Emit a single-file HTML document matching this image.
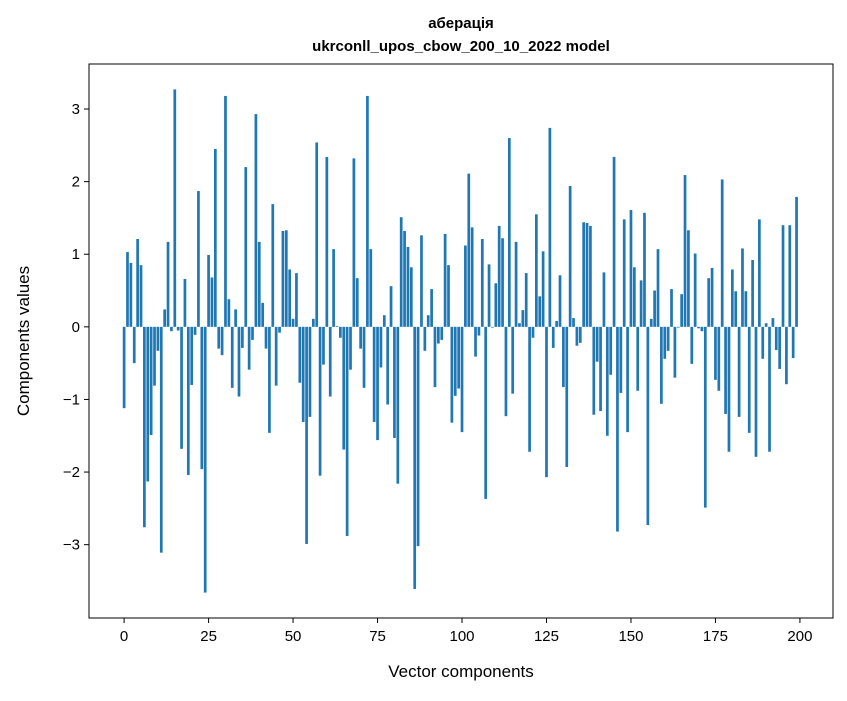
<!DOCTYPE html>
<html><head><meta charset="utf-8"><style>
body{margin:0;background:#fff;font-family:"Liberation Sans","DejaVu Sans",sans-serif}
</style></head><body>
<svg id="chart" width="847" height="696" xmlns="http://www.w3.org/2000/svg" font-family="Liberation Sans, DejaVu Sans, sans-serif">
<rect width="847" height="696" fill="#fff"/>
<text x="461" y="28" text-anchor="middle" font-size="15" font-weight="bold">аберація</text>
<text x="461" y="51" text-anchor="middle" font-size="15" font-weight="bold">ukrconll_upos_cbow_200_10_2022 model</text>
<g id="bars"></g>
<rect x="89" y="64" width="744" height="554" fill="none" stroke="#000" stroke-width="1"/>
<g id="xticks"></g>
<g id="yticks"></g>
<text x="461" y="677" text-anchor="middle" font-size="17">Vector components</text>
<text transform="translate(29,341) rotate(-90)" text-anchor="middle" font-size="17">Components values</text>
</svg>
<script>
const values = [-1.12,1.03,0.88,-0.50,1.21,0.85,-2.76,-2.13,-1.49,-0.81,-0.33,-3.11,0.24,1.17,-0.06,3.27,-0.05,-1.68,0.66,-2.04,
-0.80,-0.11,1.87,-1.96,-3.66,0.99,0.68,2.45,-0.30,-0.39,3.18,0.38,-0.84,0.24,-0.96,-0.29,2.20,-0.59,-0.18,2.93,
1.17,0.33,-0.30,-1.46,1.69,-0.81,-0.08,1.32,1.33,0.79,0.11,0.74,-0.77,-1.31,-2.99,-1.24,0.11,2.54,-2.05,-0.52,
2.34,-0.96,1.07,0.01,-0.15,-1.69,-2.88,-0.59,2.32,0.67,-0.30,-0.84,3.18,1.07,-1.31,-1.56,-0.56,0.16,-1.07,0.56,
-1.53,-2.16,1.51,1.32,1.10,0.82,-3.61,-3.02,1.26,-0.33,0.16,0.52,-0.83,-0.23,-0.18,1.28,0.85,-1.32,-0.95,-0.85,
-1.45,1.12,2.11,1.37,-0.41,-0.12,1.21,-2.37,0.86,-0.01,0.60,1.39,1.22,-1.23,2.60,-0.92,1.17,0.05,0.23,0.74,
-1.72,-0.15,1.55,0.42,1.04,-2.07,2.74,-0.29,0.08,0.71,-0.83,-1.93,1.94,0.12,-0.26,-0.22,1.44,1.43,1.39,-1.21,
-0.48,-1.16,0.75,-1.50,-0.66,2.34,-2.82,-0.91,1.48,-1.45,1.61,0.82,-0.88,0.64,1.57,-2.73,0.11,0.50,1.07,-1.06,
-0.44,-0.33,0.52,-0.70,-0.01,0.45,2.09,1.33,-0.51,1.01,-0.02,-0.06,-2.49,0.67,0.81,-0.73,-0.88,2.03,-1.20,-1.72,
0.79,0.49,-1.24,1.08,0.49,-1.46,0.92,-1.79,1.48,-0.44,0.05,-1.72,0.12,-0.32,-0.58,1.40,-0.79,1.40,-0.43,1.79];
const xTickLabels = [0,25,50,75,100,125,150,175,200];
const yTickLabels = [-3,-2,-1,0,1,2,3];
const NS="http://www.w3.org/2000/svg";
const xmin=-10.39,xmax=209.79,ymin=-4.01,ymax=3.62,L=89,R=833,T=64,B=618;
function sx(v){return L+(v-xmin)/(xmax-xmin)*(R-L);}
function sy(v){return T+(ymax-v)/(ymax-ymin)*(B-T);}
const bars=document.getElementById('bars');
values.forEach((v,i)=>{
 const r=document.createElementNS(NS,'rect');
 
 
 const x0=sx(i-0.4),x1=sx(i+0.4),y0=sy(Math.max(v,0)),y1=sy(Math.min(v,0));
 r.setAttribute('x',x0);r.setAttribute('width',x1-x0);
 r.setAttribute('y',y0);r.setAttribute('height',Math.max(y1-y0,0.01));
 r.setAttribute('fill','#1f77b4');
 bars.appendChild(r);
});
const xt=document.getElementById('xticks');
xTickLabels.forEach(t=>{
 const x=sx(t);
 const l=document.createElementNS(NS,'line');
 
 
 l.setAttribute('x1',x);l.setAttribute('x2',x);l.setAttribute('y1',B);l.setAttribute('y2',B+5);l.setAttribute('stroke','#000');
 xt.appendChild(l);
 const tx=document.createElementNS(NS,'text');
 
 
 tx.setAttribute('x',x);tx.setAttribute('y',B+23);tx.setAttribute('text-anchor','middle');tx.setAttribute('font-size','15');
 tx.textContent=t;xt.appendChild(tx);
});
const yt=document.getElementById('yticks');
yTickLabels.forEach(t=>{
 const y=sy(t);
 const l=document.createElementNS(NS,'line');
 
 
 l.setAttribute('x1',L-5);l.setAttribute('x2',L);l.setAttribute('y1',y);l.setAttribute('y2',y);l.setAttribute('stroke','#000');
 yt.appendChild(l);
 const tx=document.createElementNS(NS,'text');
 
 
 tx.setAttribute('x',L-9);tx.setAttribute('y',y+5);tx.setAttribute('text-anchor','end');tx.setAttribute('font-size','15');
 tx.textContent=(t<0?'\u2212'+(-t):t);yt.appendChild(tx);
});
</script>
</body></html>
